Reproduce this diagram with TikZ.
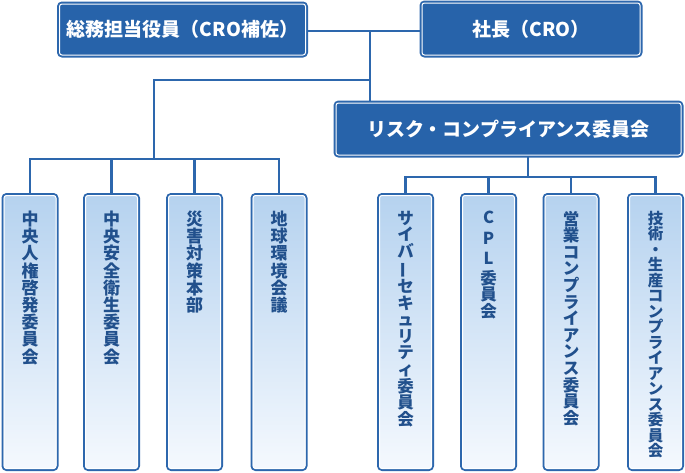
\documentclass[tikz,border=0pt]{standalone}
\usepackage{fontspec}
\usepackage{tikz}
\newfontfamily\jp{Noto Sans CJK JP}
\definecolor{boxblue}{HTML}{2763AA}
\definecolor{lineblue}{HTML}{2D67AD}
\definecolor{coltop}{HTML}{B5D2EF}
\definecolor{colbot}{HTML}{F5F9FE}
\definecolor{coltext}{HTML}{21508C}

\begin{document}
\begin{tikzpicture}[x=1pt,y=1pt]
		\tikzstyle{every node}+=[inner sep=0pt, outer sep=0pt]
		\tikzstyle{head}=[draw=lineblue, line width=2pt, fill=boxblue, rounded corners=4pt, text=white, font=\jp\bfseries\fontsize{19}{19}\selectfont]
		\tikzstyle{col}=[draw=lineblue, line width=2pt, top color=coltop, bottom color=colbot, rounded corners=4pt, minimum width=55pt, minimum height=276pt]
		\tikzstyle{tate}=[anchor=north, align=center, text=coltext, font=\jp\bfseries\fontsize{17}{17.2}\selectfont]
		\tikzstyle{tates}=[tate, font=\jp\bfseries\fontsize{16.5}{16.6}\selectfont]
		\tikzstyle{link}=[draw=lineblue, line width=2.4pt]
		\tikzstyle{rim}=[draw=white, line width=1pt, rounded corners=2.5pt]
		\useasboundingbox (0,0) rectangle (685,-472);
		\node [head, minimum width=249pt, minimum height=54pt] (gm) at (182.5,-29.5) {総務担当役員（CRO補佐）};
		\node [head, minimum width=221pt, minimum height=55pt] (ceo) at (531,-29) {社長（CRO）};
		\node [head, minimum width=348pt, minimum height=55pt] (rc) at (508.5,-129) {リスク・コンプライアンス委員会};
		\node [col] (c1) at (30,-332) {};
		\node [col] (c2) at (111.5,-332) {};
		\node [col] (c3) at (194.5,-332) {};
		\node [col] (c4) at (279,-332) {};
		\node [col] (c5) at (405.5,-332) {};
		\node [col] (c6) at (488.5,-332) {};
		\node [col] (c7) at (571,-332) {};
		\node [col] (c8) at (655.5,-332) {};
		\foreach \n in {gm,ceo,rc,c1,c2,c3,c4,c5,c6,c7,c8}
			\draw [rim] ([shift={(1.5,1.5)}]\n.south west) rectangle ([shift={(-1.5,-1.5)}]\n.north east);
		\node [tate] (t1) at (30,-211) {中\\央\\人\\権\\啓\\発\\委\\員\\会};
		\node [tate] (t2) at (111.5,-211) {中\\央\\安\\全\\衛\\生\\委\\員\\会};
		\node [tate] (t3) at (194.5,-211) {災\\害\\対\\策\\本\\部};
		\node [tate] (t4) at (279,-211) {地\\球\\環\\境\\会\\議};
		\node [tates] (t5) at (405.5,-211) {サ\\イ\\バ\\\rotatebox[origin=c]{90}{ー}\\セ\\キ\\ュ\\リ\\テ\\ィ\\委\\員\\会};
		\node [tates] (t6) at (488.5,-211) {C\\[4pt]P\\[4pt]L\\[3pt]委\\員\\会};
		\node [tates] (t7) at (571,-211) {営\\業\\コ\\ン\\プ\\ラ\\イ\\ア\\ン\\ス\\委\\員\\会};
		\node [tates, font=\jp\bfseries\fontsize{15.5}{15.5}\selectfont] (t8) at (655.5,-211) {技\\術\\・\\生\\産\\コ\\ン\\プ\\ラ\\イ\\ア\\ン\\ス\\委\\員\\会};
		\coordinate (j1) at (370,-31);
		\coordinate (j2) at (370,-80);
		\coordinate (bl) at (154,-159);
		\coordinate (br) at (528,-177);
		\draw [link] (gm.east |- j1) -- (ceo.west |- j1);
		\draw [link] (j1) -- (rc.north -| j1);
		\draw [link] (j2) -| (bl);
		\draw [link] (c1.north) -- (c1.north |- bl) -- (c4.north |- bl) -- (c4.north);
		\foreach \n in {c2,c3}
			\draw [link] (\n.north |- bl) -- (\n.north);
		\draw [link] (rc.south -| br) -- (br);
		\draw [link] (c5.north) -- (c5.north |- br) -- (c8.north |- br) -- (c8.north);
		\foreach \n in {c6,c7}
			\draw [link] (\n.north |- br) -- (\n.north);
\end{tikzpicture}
\end{document}
